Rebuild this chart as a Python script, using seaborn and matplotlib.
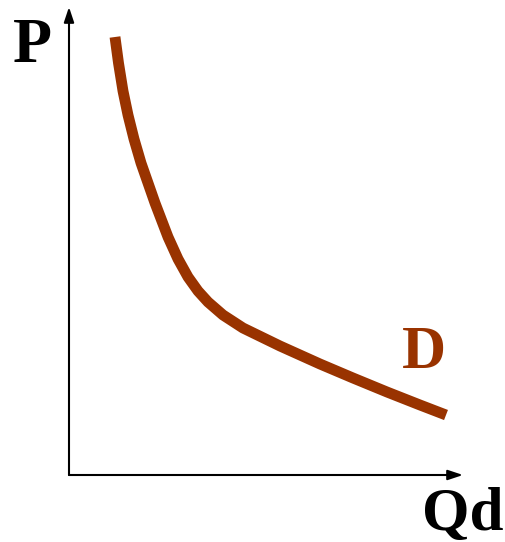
import matplotlib
matplotlib.use("Agg")
import matplotlib.pyplot as plt
import seaborn as sns
import pandas as pd

# punkty krzywej popytu (jednostki ~ piksele od początku osi)
quantity = [46, 49.5, 54, 59, 65, 72, 86, 99, 109, 119, 129, 139, 154, 174, 211, 251, 284, 318, 351, 377]
price = [438, 412, 384, 360, 336, 312, 272, 238, 216, 198, 184, 173, 160, 147, 129, 111, 97, 83, 70, 60]
curve_label = "D"
x_label = "Qd"
y_label = "P"

df = pd.DataFrame({"Qd": quantity, "P": price})

sns.set_style("white")
plt.rcParams["font.family"] = ["Liberation Serif", "DejaVu Serif"]

fig = plt.figure(figsize=(5.06, 5.42), dpi=100)
ax = fig.add_axes([0, 0, 1, 1])
ax.set_xlim(-69, 437)
ax.set_ylim(-67, 475)
ax.axis("off")

# osie ze strzałkami
arrow = dict(arrowstyle="-|>,head_length=0.9,head_width=0.3", color="black", lw=1.5,
             shrinkA=0, shrinkB=0)
ax.annotate("", xy=(394, 0), xytext=(0, 0), arrowprops=arrow)
ax.annotate("", xy=(0, 468), xytext=(0, 0), arrowprops=arrow)

# krzywa popytu
sns.lineplot(data=df, x="Qd", y="P", ax=ax, color="#993300", lw=7.8,
             sort=False, solid_capstyle="butt", solid_joinstyle="round")

ax.text(-56, 413, y_label, fontsize=46, fontweight="bold", color="black")
ax.text(353, -55, x_label, fontsize=44, fontweight="bold", color="black")
ax.text(333, 107, curve_label, fontsize=44, fontweight="bold", color="#993300")

fig.savefig("out.png", dpi=100)
